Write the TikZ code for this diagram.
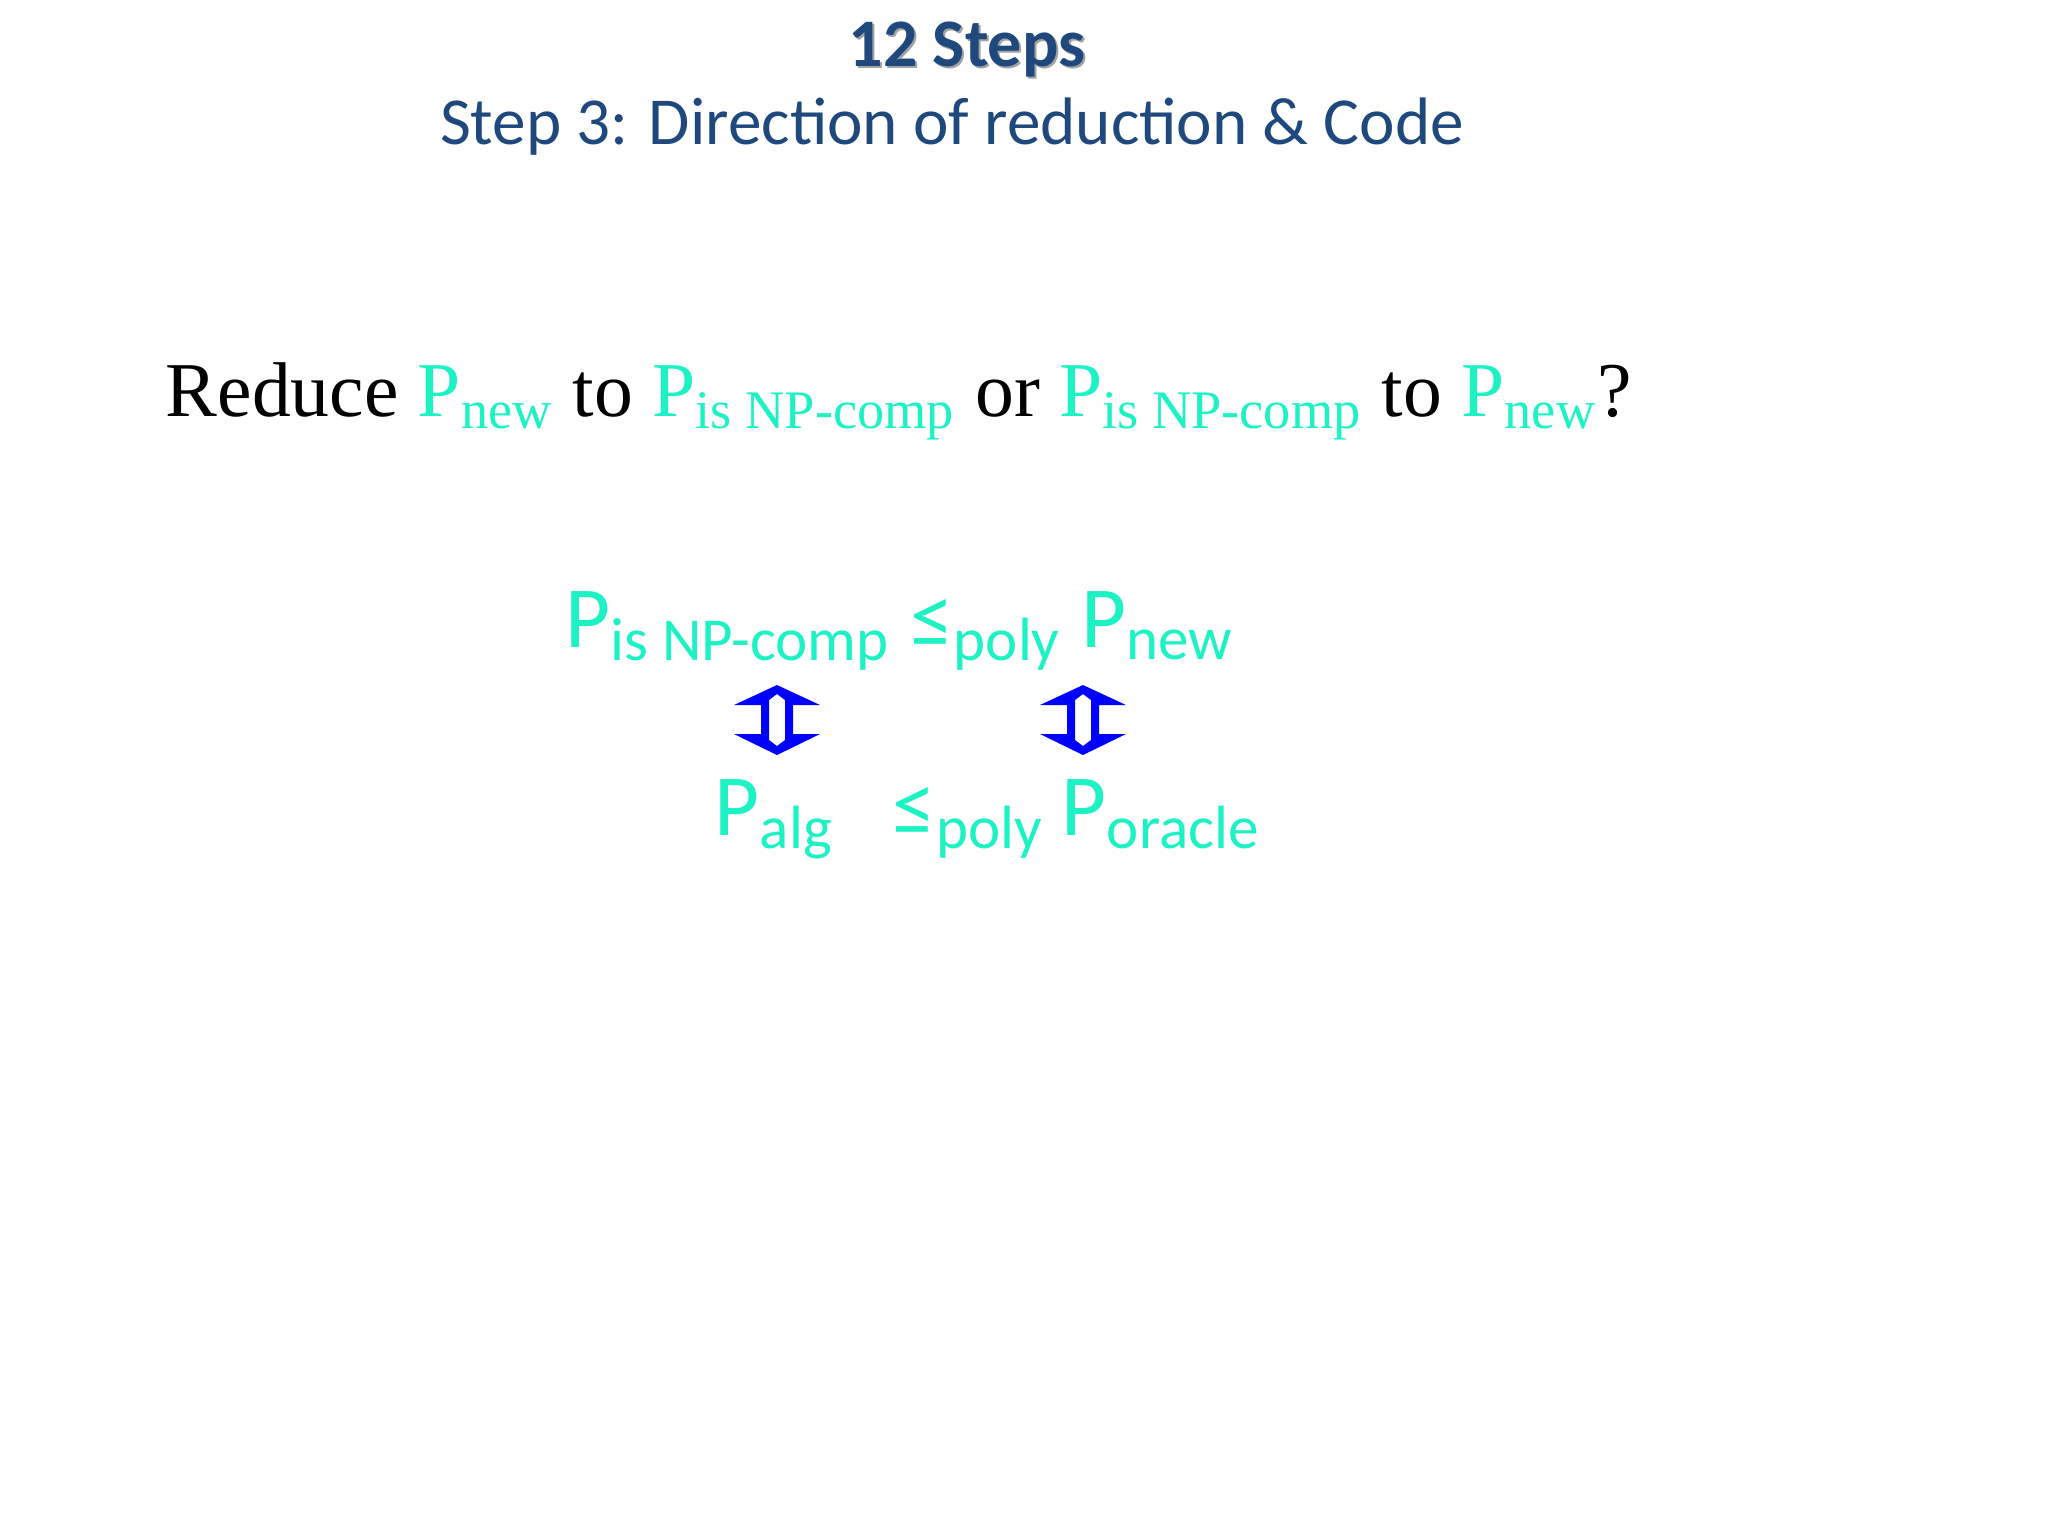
\documentclass[tikz,border=0pt]{standalone}
\usepackage{fontspec}
\setmainfont{Liberation Serif}
\newfontfamily\carl{Carlito}
\definecolor{aq}{HTML}{1CF2C4}
\definecolor{tb}{HTML}{1F497D}
\begin{document}
\begin{tikzpicture}[x=0.25pt,y=-0.25pt,
  txt/.style={inner sep=0,anchor=base west},
  dbl/.style={fill=blue,even odd rule}]
\useasboundingbox (0,0) rectangle (2048,1536);
\node[txt,anchor=base,text=black!60,opacity=0.6] (tsh) at (969,68) {\carl\fontsize{17}{20}\bfseries 12 Steps};
\node[txt,anchor=base,text=tb] (title) at (967,66) {\carl\fontsize{17}{20}\bfseries 12 Steps};
\node[txt,anchor=base,text=tb] (sub) at (952,144) {\carl\fontsize{16.8}{20}\selectfont Step 3: Direction of reduction \& Code};
\node[txt] (q) at (165,416) {\fontsize{19.4}{23}\selectfont Reduce \textcolor{aq}{P\textsubscript{new}} to \textcolor{aq}{P\textsubscript{is NP-comp}} or \textcolor{aq}{P\textsubscript{is NP-comp}} to \textcolor{aq}{P\textsubscript{new}}?};
\node[txt,text=aq] (r1) at (565,647) {\carl\fontsize{21.8}{26}\selectfont P\textsubscript{is NP-comp} ≤\textsubscript{poly} P\textsubscript{new}};
\node[txt,text=aq] (a) at (714,835) {\carl\fontsize{21.8}{26}\selectfont P\textsubscript{alg}};
\node[txt,text=aq] (b) at (892,835) {\carl\fontsize{21.8}{26}\selectfont ≤\textsubscript{poly}};
\node[txt,text=aq] (c) at (1061,835) {\carl\fontsize{21.8}{26}\selectfont P\textsubscript{oracle}};
\foreach \cx/\nm in {777/ar1,1083/ar2}{
  \coordinate (\nm) at (\cx,720);
  \fill[dbl] (\cx,685) -- (\cx+43,705) -- (\cx+16,705) -- (\cx+16,734) -- (\cx+43,734) -- (\cx,755) -- (\cx-43,734) -- (\cx-16,734) -- (\cx-16,705) -- (\cx-43,705) -- cycle
    (\cx,694) -- (\cx+8,700) -- (\cx+8,740) -- (\cx,746) -- (\cx-8,740) -- (\cx-8,700) -- cycle;
}
\end{tikzpicture}
\end{document}
